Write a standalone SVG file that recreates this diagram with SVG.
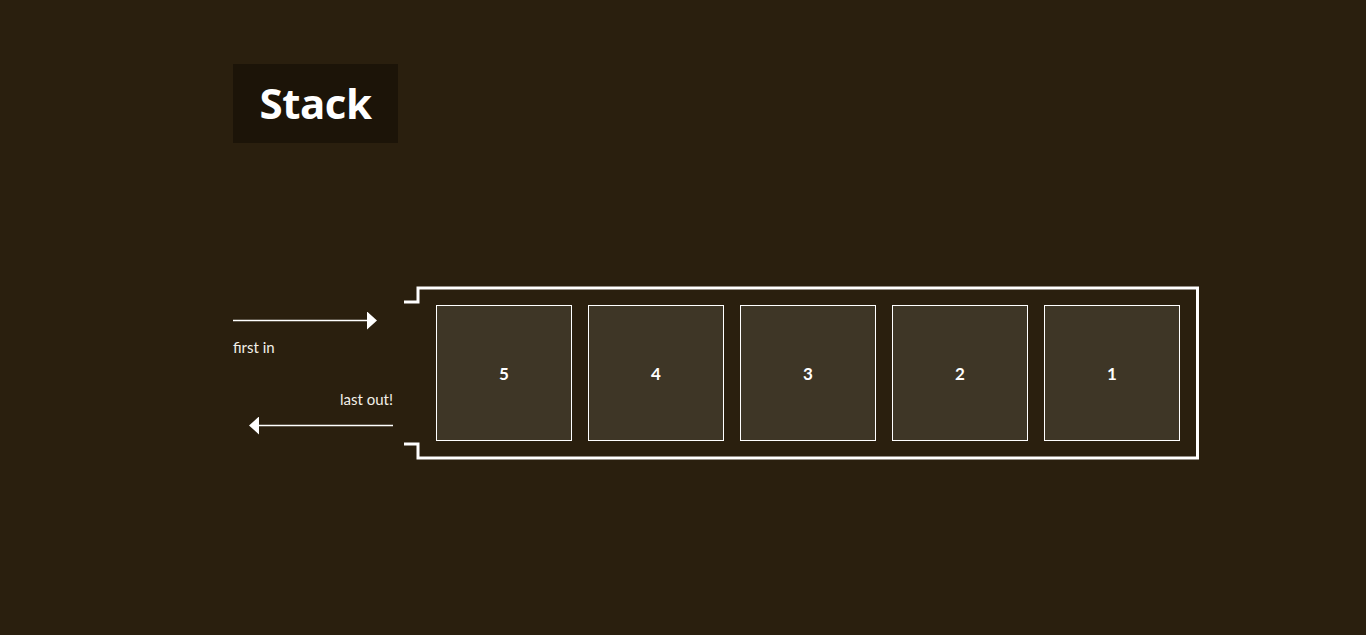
<svg xmlns="http://www.w3.org/2000/svg" width="1366" height="635" viewBox="0 0 1366 635">
<defs>
<style>
.lbl{font-family:Lato,"Open Sans","Liberation Sans",sans-serif;font-size:15px;fill:#f2efe8}
.num{font-family:Lato,"Open Sans","Liberation Sans",sans-serif;font-size:17px;font-weight:bold;fill:#ffffff;text-anchor:middle}
.box{fill:#3e3626;stroke:#ffffff;stroke-width:1}
.ln{stroke:#ffffff;stroke-width:1.3;fill:none}
</style>
<marker id="ah" viewBox="0 0 10 18" refX="0" refY="9" markerWidth="10" markerHeight="18" markerUnits="userSpaceOnUse" orient="auto">
<path d="M0,0 L10,9 L0,18 Z" fill="#ffffff"/>
</marker>
</defs>
<rect width="1366" height="635" fill="#2a1f0e"/>
<g id="title">
<rect x="233" y="64" width="165" height="79" fill="#1c1408"/>
<text x="315.5" y="119" font-family="'Open Sans',Lato,'Liberation Sans',sans-serif" font-size="42" font-weight="bold" fill="#ffffff" text-anchor="middle" letter-spacing="-0.5">Stack</text>
</g>
<g id="container">
<path d="M404,302 H418 V288 H1197.5 V458 H418 V444 H404" fill="none" stroke="#ffffff" stroke-width="3"/>
</g>
<g id="item5"><rect class="box" x="436.5" y="305.5" width="135" height="135"/><text class="num" x="504" y="380">5</text></g>
<g id="item4"><rect class="box" x="588.5" y="305.5" width="135" height="135"/><text class="num" x="656" y="380">4</text></g>
<g id="item3"><rect class="box" x="740.5" y="305.5" width="135" height="135"/><text class="num" x="808" y="380">3</text></g>
<g id="item2"><rect class="box" x="892.5" y="305.5" width="135" height="135"/><text class="num" x="960" y="380">2</text></g>
<g id="item1"><rect class="box" x="1044.5" y="305.5" width="135" height="135"/><text class="num" x="1112" y="380">1</text></g>
<g id="connectors">
<line class="ln" x1="233" y1="320.5" x2="367" y2="320.5" marker-end="url(#ah)"/>
<line class="ln" x1="393" y1="425.5" x2="259" y2="425.5" marker-end="url(#ah)"/>
</g>
<g id="labels">
<text class="lbl" x="233" y="353">first in</text>
<text class="lbl" x="393" y="405" text-anchor="end">last out!</text>
</g>
</svg>
